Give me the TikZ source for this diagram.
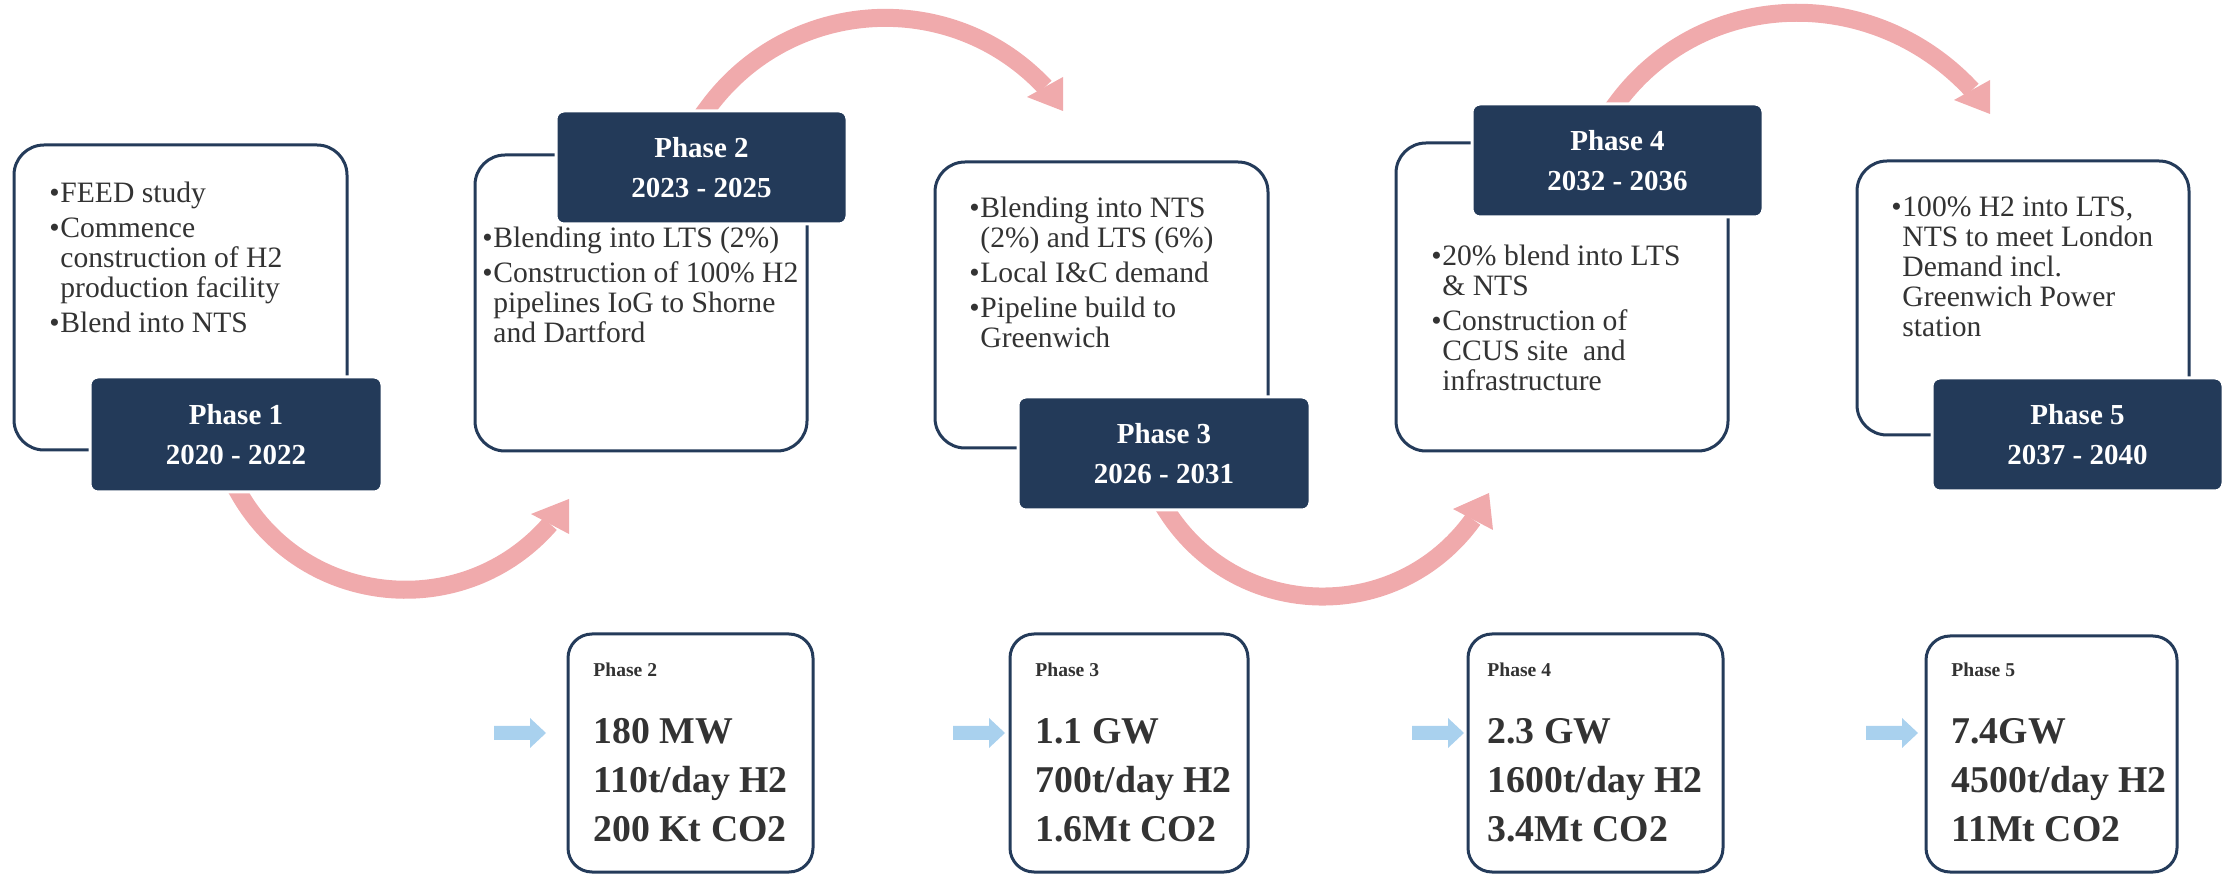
\documentclass[tikz,border=0pt]{standalone}
\usepackage{fontspec}
\setmainfont{Liberation Serif}
\definecolor{navy}{HTML}{243B5A}
\definecolor{darkfill}{HTML}{233A59}
\definecolor{pinkarc}{HTML}{F0AAAC}
\definecolor{bluearr}{HTML}{A9D1EE}
\definecolor{txt}{HTML}{333333}
\newcommand{\bulx}{\makebox[5.5pt][l]{•}}
\newcommand{\indx}{\hspace*{5.5pt}}
\tikzset{
  obox/.style={draw=navy, line width=1.5pt, rounded corners=15pt, fill=white, inner sep=0pt},
  dbox/.style={draw=white, line width=1.5pt, rounded corners=4pt, fill=darkfill, text=white,
    font=\fontsize{14.5}{20}\selectfont\bfseries, align=center, inner sep=0pt},
  bbox/.style={draw=navy, line width=1.5pt, rounded corners=12pt, fill=white, inner sep=0pt},
  btxt/.style={anchor=base west, inner sep=0pt, text=txt, font=\fontsize{14.8}{15}\selectfont},
  smalllbl/.style={anchor=base west, inner sep=0pt, text=txt, font=\fontsize{9.8}{11}\selectfont\bfseries},
  bigtxt/.style={anchor=base west, inner sep=0pt, text=txt, font=\fontsize{18.9}{24.5}\selectfont\bfseries},
  pinkshaft/.style={draw=pinkarc, line width=9pt},
  pinkhead/.style={fill=pinkarc, draw=none},
  bluefill/.style={fill=bluearr, draw=none}
}
\begin{document}
\begin{tikzpicture}[x=0.5pt,y=-0.5pt]
\useasboundingbox (0,0) rectangle (2234,876);

% ---- pink curved arrows ----
\coordinate (a1t) at (234.5,485.3);
\coordinate (a1s) at (239.5,494);
\coordinate (a1c1) at (305,608);
\coordinate (a1c2) at (464,623);
\coordinate (a1e) at (550,524);
\coordinate (h1a) at (531,514);
\coordinate (h1b) at (569,499);
\coordinate (h1c) at (569,534);
\draw[pinkshaft] (a1t) -- (a1s) .. controls (a1c1) and (a1c2) .. (a1e);
\fill[pinkhead] (h1a) -- (h1b) -- (h1c) -- cycle;

\coordinate (a2t) at (702.5,115);
\coordinate (a2s) at (708.5,107);
\coordinate (a2c1) at (790,-3);
\coordinate (a2c2) at (951,-13);
\coordinate (a2e) at (1045,87);
\coordinate (h2a) at (1027,97);
\coordinate (h2b) at (1063,111);
\coordinate (h2c) at (1063,77);
\draw[pinkshaft] (a2t) -- (a2s) .. controls (a2c1) and (a2c2) .. (a2e);
\fill[pinkhead] (h2a) -- (h2b) -- (h2c) -- cycle;

\coordinate (a3t) at (1162.5,504.6);
\coordinate (a3s) at (1168,513);
\coordinate (a3c1) at (1239,621.5);
\coordinate (a3c2) at (1397,625);
\coordinate (a3e) at (1473,519.5);
\coordinate (h3a) at (1453,509);
\coordinate (h3b) at (1489,493);
\coordinate (h3c) at (1493,530);
\draw[pinkshaft] (a3t) -- (a3s) .. controls (a3c1) and (a3c2) .. (a3e);
\fill[pinkhead] (h3a) -- (h3b) -- (h3c) -- cycle;

\coordinate (a4t) at (1611,111);
\coordinate (a4s) at (1617,103);
\coordinate (a4c1) at (1703,-13);
\coordinate (a4c2) at (1873,-17);
\coordinate (a4e) at (1972,90);
\coordinate (h4a) at (1954,100);
\coordinate (h4b) at (1990,114);
\coordinate (h4c) at (1990,80);
\draw[pinkshaft] (a4t) -- (a4s) .. controls (a4c1) and (a4c2) .. (a4e);
\fill[pinkhead] (h4a) -- (h4b) -- (h4c) -- cycle;

% ---- blue block arrows ----
\foreach \xx/\nm in {494/ba2, 953/ba3, 1412/ba4, 1866/ba5}{
  \coordinate (\nm) at (\xx,733);
  \fill[bluefill] (\nm) ++(0,-7) -- ++(36,0) -- ++(0,-8) -- ++(16,15) -- ++(-16,15) -- ++(0,-8) -- ++(-36,0) -- cycle;
}

% ---- outline boxes ----
\node[obox, minimum width=166.5pt, minimum height=152.5pt] (o1) at (180.5,297.5) {};
\node[obox, minimum width=166pt, minimum height=148pt] (o2) at (641,303) {};
\node[obox, minimum width=166.5pt, minimum height=143pt] (o3) at (1101.5,305) {};
\node[obox, minimum width=166pt, minimum height=154pt] (o4) at (1562,297) {};
\node[obox, minimum width=166pt, minimum height=137pt] (o5) at (2023,298) {};

% ---- dark phase boxes ----
\node[dbox, minimum width=146pt, minimum height=57.5pt] (d1) at (236,434.5) {Phase 1\\2020 - 2022};
\node[dbox, minimum width=145.5pt, minimum height=56.5pt] (d2) at (701.5,167.5) {Phase 2\\2023 - 2025};
\node[dbox, minimum width=146pt, minimum height=56.5pt] (d3) at (1164,453.5) {Phase 3\\2026 - 2031};
\node[dbox, minimum width=145.5pt, minimum height=56.5pt] (d4) at (1617.5,160.5) {Phase 4\\2032 - 2036};
\node[dbox, minimum width=145.5pt, minimum height=56.5pt] (d5) at (2077.5,434.5) {Phase 5\\2037 - 2040};

% ---- bullet texts ----
\node[btxt] (t1) at (49,203) {\begin{tabular}[t]{@{}l@{}}
\bulx FEED study\\[2.5pt]
\bulx Commence\\
\indx construction of H2\\
\indx production facility\\[2.5pt]
\bulx Blend into NTS
\end{tabular}};
\node[btxt] (t2) at (482,248) {\begin{tabular}[t]{@{}l@{}}
\bulx Blending into LTS (2\%)\\[2.5pt]
\bulx Construction of 100\% H2\\
\indx pipelines IoG to Shorne\\
\indx and Dartford
\end{tabular}};
\node[btxt] (t3) at (969,218) {\begin{tabular}[t]{@{}l@{}}
\bulx Blending into NTS\\
\indx (2\%) and LTS (6\%)\\[2.5pt]
\bulx Local I\&C demand\\[2.5pt]
\bulx Pipeline build to\\
\indx Greenwich
\end{tabular}};
\node[btxt] (t4) at (1431,266) {\begin{tabular}[t]{@{}l@{}}
\bulx 20\% blend into LTS\\
\indx \& NTS\\[2.5pt]
\bulx Construction of\\
\indx CCUS site\ \ and\\
\indx infrastructure
\end{tabular}};
\node[btxt] (t5) at (1891,217) {\begin{tabular}[t]{@{}l@{}}
\bulx 100\% H2 into LTS,\\
\indx NTS to meet London\\
\indx Demand incl.\\
\indx Greenwich Power\\
\indx station
\end{tabular}};

% ---- bottom boxes ----
\node[bbox, minimum width=122.5pt, minimum height=119pt] (b2) at (690.5,753) {};
\node[bbox, minimum width=119pt, minimum height=119pt] (b3) at (1129,753) {};
\node[bbox, minimum width=127.5pt, minimum height=119pt] (b4) at (1595.5,753) {};
\node[bbox, minimum width=125.5pt, minimum height=118pt] (b5) at (2051.5,754) {};

\node[smalllbl] (s2) at (593,677) {Phase 2};
\node[smalllbl] (s3) at (1035,677) {Phase 3};
\node[smalllbl] (s4) at (1487,677) {Phase 4};
\node[smalllbl] (s5) at (1951,677) {Phase 5};

\node[bigtxt] (g2) at (593,744) {\begin{tabular}[t]{@{}l@{}}180 MW\\110t/day H2\\200 Kt CO2\end{tabular}};
\node[bigtxt] (g3) at (1035,744) {\begin{tabular}[t]{@{}l@{}}1.1 GW\\700t/day H2\\1.6Mt CO2\end{tabular}};
\node[bigtxt] (g4) at (1487,744) {\begin{tabular}[t]{@{}l@{}}2.3 GW\\1600t/day H2\\3.4Mt CO2\end{tabular}};
\node[bigtxt] (g5) at (1951,744) {\begin{tabular}[t]{@{}l@{}}7.4GW\\4500t/day H2\\11Mt CO2\end{tabular}};
\end{tikzpicture}
\end{document}
